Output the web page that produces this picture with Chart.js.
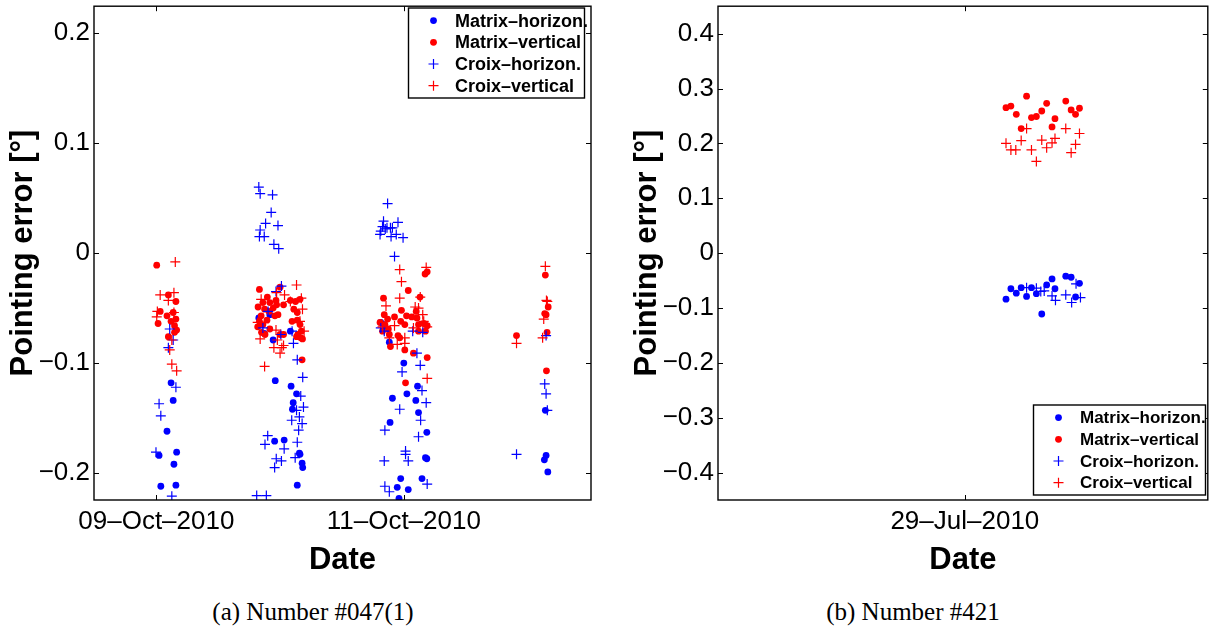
<!DOCTYPE html>
<html>
<head>
<meta charset="utf-8">
<script src="https://cdn.jsdelivr.net/npm/chart.js@4.4.0/dist/chart.umd.min.js"></script>
<style>
  html, body { margin: 0; padding: 0; background: #fff; }
  #wrap { position: relative; width: 1214px; height: 632px; overflow: hidden; background: #fff; }
  .panel { position: absolute; top: 0; width: 607px; height: 590px; }
  #pa { left: 0; }
  #pb { left: 607px; }
  .cap { position: absolute; top: 597px; line-height: 30px; font-family: "Liberation Serif", "DejaVu Serif", serif;
         font-size: 25px; color: #000; white-space: nowrap; transform: translateX(-50%); }
</style>
</head>
<body>
<div id="wrap">
  <div class="panel" id="pa"><canvas id="ca" width="607" height="590"></canvas></div>
  <div class="panel" id="pb"><canvas id="cb" width="607" height="590"></canvas></div>
  <div class="cap" style="left:313px">(a) Number #047(1)</div>
  <div class="cap" style="left:913px">(b) Number #421</div>
</div>
<script>
// ---------- Panel (a): days after 09-Oct-2010 00:00, pointing error in degrees ----------
const seriesNames = ['Matrix–horizon.', 'Matrix–vertical', 'Croix–horizon.', 'Croix–vertical'];

const xTicksA = [0, 2];
const xLabelsA = ['09–Oct–2010', '11–Oct–2010'];
const yTicksA = [-0.2, -0.1, 0, 0.1, 0.2];
const yLabelsA = ['−0.2', '−0.1', '0', '0.1', '0.2'];

const dayA_matrixH = [
  0.119, 0.136, 0.086, 0.022, 0.164, 0.142, 0.036, 0.158,
  0.872, 0.944, 0.828, 0.917, 1.083, 0.961, 1.089, 1.133, 1.106, 1.100, 0.956, 1.033, 1.156, 1.161, 1.178, 1.183, 1.139,
  1.814, 1.842, 1.883, 2.000, 2.111, 2.025, 1.908, 2.097, 2.119, 1.889, 2.186, 2.175, 2.186, 1.975, 2.147, 1.947, 2.036, 1.961,
  3.144, 3.150, 3.136, 3.164
];
const errA_matrixH = [
  -0.118, -0.134, -0.162, -0.184, -0.181, -0.192, -0.212, -0.211,
  -0.073, -0.079, -0.059, -0.056, -0.071, -0.116, -0.121, -0.128, -0.136, -0.142, -0.171, -0.170, -0.182, -0.183, -0.191, -0.195, -0.211,
  -0.063, -0.065, -0.081, -0.100, -0.121, -0.128, -0.132, -0.134, -0.145, -0.154, -0.163, -0.186, -0.187, -0.205, -0.205, -0.213, -0.215, -0.223,
  -0.143, -0.184, -0.188, -0.199
];

const dayA_matrixV = [
  0.003, 0.097, 0.158, 0.031, 0.086, 0.136, 0.158, 0.119, 0.014, 0.147, 0.164, 0.147, 0.097,
  0.833, 0.897, 0.967, 1.000, 0.861, 0.917, 0.972, 1.028, 1.083, 1.125, 1.161, 0.822, 0.847, 0.875, 0.911, 0.944, 0.958, 0.983,
  0.833, 0.861, 0.894, 0.917, 0.819, 0.850, 0.878, 1.111, 1.139, 1.097, 1.139, 1.161, 1.172, 1.144, 1.167, 1.181, 1.133, 1.000, 1.028, 1.178,
  2.172, 2.189, 2.036, 1.836, 2.131, 1.981, 2.022, 1.842, 1.869, 1.925, 1.808, 1.847, 1.975, 2.008, 2.064, 2.106, 2.119, 2.161, 2.189,
  1.828, 1.883, 1.953, 1.967, 2.175, 2.100, 1.875, 2.119, 1.892, 2.008, 2.078, 2.189, 2.014,
  2.911, 3.144, 3.167, 3.139, 3.150, 3.158, 3.153
];
const errA_matrixV = [
  -0.011, -0.038, -0.044, -0.053, -0.057, -0.054, -0.060, -0.062, -0.064, -0.066, -0.070, -0.072, -0.076,
  -0.033, -0.040, -0.043, -0.031, -0.045, -0.045, -0.047, -0.047, -0.043, -0.044, -0.042, -0.049, -0.057, -0.051, -0.053, -0.050, -0.057, -0.056,
  -0.062, -0.065, -0.061, -0.069, -0.067, -0.072, -0.074, -0.051, -0.054, -0.062, -0.061, -0.065, -0.071, -0.074, -0.077, -0.078, -0.076, -0.074, -0.074, -0.097,
  -0.019, -0.017, -0.034, -0.041, -0.040, -0.052, -0.057, -0.056, -0.060, -0.058, -0.063, -0.065, -0.062, -0.065, -0.058, -0.059, -0.065, -0.064, -0.066,
  -0.071, -0.074, -0.075, -0.077, -0.071, -0.053, -0.069, -0.071, -0.085, -0.088, -0.091, -0.095, -0.118,
  -0.075, -0.020, -0.049, -0.055, -0.056, -0.072, -0.107
];

const dayA_croixH = [
  0.108, 0.136, 0.097, 0.158, 0.022, 0.036, -0.003, 0.125,
  0.828, 0.839, 0.939, 0.928, 0.883, 0.983, 0.839, 0.833, 0.872, 0.950, 0.989, 1.011, 0.967,
  1.006, 1.097, 0.861, 0.903,
  1.108, 1.139, 1.183, 1.167, 1.189, 1.133, 1.156, 1.094, 1.178, 1.150, 0.900, 0.878, 1.139, 1.033, 1.122, 0.969, 1.011, 0.956, 0.811, 0.889,
  1.869, 1.836, 1.953, 1.828, 1.864, 1.892, 1.814, 1.808, 1.897, 1.939, 1.994, 1.925, 1.850, 1.908,
  1.814, 1.842, 2.072, 2.153,
  2.106, 2.133, 1.986, 2.147, 2.181, 1.967, 2.136, 1.847, 2.119, 2.014, 2.014, 2.036, 1.842, 1.847, 2.189, 1.883,
  2.911, 3.150, 3.139, 3.150, 3.160
];
const errA_croixH = [
  -0.069, -0.079, -0.086, -0.122, -0.137, -0.148, -0.181, -0.221,
  0.060, 0.054, 0.053, 0.037, 0.027, 0.025, 0.021, 0.015, 0.015, 0.008, 0.004, -0.030, -0.035,
  -0.074, -0.071, -0.068, -0.053,
  -0.082, -0.097, -0.113, -0.130, -0.140, -0.143, -0.149, -0.152, -0.155, -0.161, -0.166, -0.174, -0.172, -0.178, -0.186, -0.187, -0.189, -0.195, -0.2205, -0.2205,
  0.045, 0.029, 0.028, 0.024, 0.023, 0.023, 0.020, 0.017, 0.015, 0.017, 0.014, -0.003, 0.022, 0.023,
  -0.068, -0.071, -0.071, -0.072,
  -0.091, -0.102, -0.108, -0.125, -0.136, -0.142, -0.152, -0.161, -0.167, -0.180, -0.183, -0.189, -0.189, -0.212, -0.210, -0.217,
  -0.183, -0.075, -0.119, -0.128, -0.143
];

const dayA_croixV = [
  0.153, 0.031, 0.142, 0.097, 0.008, 0.003, 0.142, 0.125, 0.108, 0.125, 0.164,
  1.133, 1.036, 1.172, 1.083, 1.181, 1.161, 1.194, 0.819, 0.839, 0.875, 0.967, 0.978, 1.014, 0.950, 1.000, 1.028, 0.847, 0.972,
  2.181, 1.967, 1.981, 1.967, 2.133, 2.092, 2.119, 1.856, 2.153, 2.161, 2.189, 1.828, 1.925, 1.883, 2.008, 2.078, 1.947, 2.008, 2.189,
  2.911, 3.144, 3.153, 3.160, 3.131, 3.122
];
const errA_croixV = [
  -0.008, -0.038, -0.036, -0.043, -0.053, -0.058, -0.054, -0.079, -0.088, -0.101, -0.107,
  -0.029, -0.038, -0.041, -0.044, -0.051, -0.062, -0.071, -0.063, -0.078, -0.103, -0.070, -0.079, -0.086, -0.086, -0.091, -0.084, -0.042, -0.036,
  -0.013, -0.015, -0.026, -0.041, -0.040, -0.049, -0.050, -0.048, -0.056, -0.062, -0.067, -0.067, -0.066, -0.077, -0.077, -0.068, -0.083, -0.082, -0.114,
  -0.082, -0.012, -0.043, -0.044, -0.060, -0.077
];

// ---------- Panel (b): days after 29-Jul-2010 00:00 ----------
const xTicksB = [0];
const xLabelsB = ['29–Jul–2010'];
const yTicksB = [-0.4, -0.3, -0.2, -0.1, 0, 0.1, 0.2, 0.3, 0.4];
const yLabelsB = ['−0.4', '−0.3', '−0.2', '−0.1', '0', '0.1', '0.2', '0.3', '0.4'];

const dayB_matrix = [0.084, 0.094, 0.105, 0.115, 0.126, 0.136, 0.146, 0.157, 0.167, 0.178, 0.184, 0.206, 0.217, 0.226, 0.234];
const errB_matrixH = [-0.084, -0.065, -0.073, -0.063, -0.079, -0.063, -0.074, -0.111, -0.058, -0.047, -0.065, -0.042, -0.044, -0.080, -0.055];
const errB_matrixV = [0.265, 0.268, 0.253, 0.227, 0.286, 0.247, 0.249, 0.259, 0.273, 0.230, 0.245, 0.277, 0.261, 0.253, 0.264];

const dayB_croixH = [0.126, 0.146, 0.155, 0.162, 0.178, 0.185, 0.206, 0.218, 0.227, 0.236];
const errB_croixH = [-0.063, -0.064, -0.070, -0.069, -0.078, -0.086, -0.076, -0.090, -0.056, -0.081];
const dayB_croixV = [0.084, 0.094, 0.104, 0.115, 0.126, 0.136, 0.146, 0.157, 0.167, 0.178, 0.184, 0.206, 0.217, 0.226, 0.234];
const errB_croixV = [0.200, 0.188, 0.188, 0.205, 0.227, 0.188, 0.167, 0.206, 0.192, 0.201, 0.209, 0.227, 0.183, 0.198, 0.218];

// ---------- drawing helpers ----------
const BLUE = '#0000ff';
const RED = '#ff0000';
const SANS = '"Liberation Sans", Arial, Helvetica, sans-serif';

function marker(ctx, kind, color, x, y) {
  ctx.save();
  if (kind === 'dot') {
    ctx.fillStyle = color;
    ctx.beginPath();
    ctx.arc(x, y, 3.4, 0, Math.PI * 2);
    ctx.fill();
  } else {
    ctx.strokeStyle = color;
    ctx.lineWidth = 1.2;
    ctx.beginPath();
    ctx.moveTo(x - 5, y); ctx.lineTo(x + 5, y);
    ctx.moveTo(x, y - 5); ctx.lineTo(x, y + 5);
    ctx.stroke();
  }
  ctx.restore();
}

// Box around the axes with inward tick marks on all four sides
const framePlugin = {
  id: 'axesFrame',
  afterDatasetsDraw(chart) {
    const { ctx, chartArea: a, scales: { x, y } } = chart;
    const L = 5;
    ctx.save();
    ctx.strokeStyle = '#000';
    ctx.lineWidth = 1;
    ctx.beginPath();
    x.ticks.forEach(t => {
      const px = Math.round(x.getPixelForValue(t.value)) + 0.5;
      ctx.moveTo(px, a.bottom); ctx.lineTo(px, a.bottom - L);
      ctx.moveTo(px, a.top); ctx.lineTo(px, a.top + L);
    });
    y.ticks.forEach(t => {
      const py = Math.round(y.getPixelForValue(t.value)) + 0.5;
      ctx.moveTo(a.left, py); ctx.lineTo(a.left + L, py);
      ctx.moveTo(a.right, py); ctx.lineTo(a.right - L, py);
    });
    ctx.stroke();
    ctx.lineWidth = 1.4;
    ctx.strokeRect(a.left, a.top, a.right - a.left, a.bottom - a.top);
    ctx.restore();
  }
};

// Legend box inside the axes (box given in canvas pixels)
const boxLegendPlugin = {
  id: 'boxLegend',
  afterDraw(chart, args, o) {
    const { ctx } = chart;
    ctx.save();
    ctx.fillStyle = '#fff';
    ctx.fillRect(o.x, o.y, o.w, o.h);
    ctx.strokeStyle = '#000';
    ctx.lineWidth = 1.4;
    ctx.strokeRect(o.x, o.y, o.w, o.h);
    ctx.font = 'bold ' + o.size + 'px ' + SANS;
    ctx.textBaseline = 'middle';
    ctx.textAlign = 'left';
    chart.data.datasets.forEach((ds, i) => {
      const cy = o.y + 12.6 + i * 21.7;
      marker(ctx, ds.kind, ds.borderColor, o.x + 25, cy);
      ctx.fillStyle = '#000';
      ctx.fillText(ds.label, o.x + 46.5, cy + 1);
    });
    ctx.restore();
  }
};

function buildSeries(list) {
  return list.map((s, i) => ({
    label: s.label,
    kind: s.kind,
    data: s.days.map((d, k) => ({ x: d, y: s.errs[k] })),
    pointStyle: s.kind === 'dot' ? 'circle' : 'cross',
    pointRadius: s.kind === 'dot' ? 3.4 : 5,
    pointHoverRadius: s.kind === 'dot' ? 3.4 : 5,
    backgroundColor: s.color,
    borderColor: s.color,
    borderWidth: s.kind === 'dot' ? 0 : 1.2,
    showLine: false,
    order: list.length - i
  }));
}

function makePanel(canvas, p) {
  const H = canvas.height, W = canvas.width;
  return new Chart(canvas, {
    type: 'scatter',
    data: { datasets: buildSeries(p.series) },
    options: {
      responsive: false,
      animation: false,
      events: [],
      layout: { padding: { left: 0, top: p.area.top, right: W - p.area.right, bottom: 0 } },
      scales: {
        x: {
          type: 'linear', min: p.xMin, max: p.xMax,
          afterBuildTicks: s => { s.ticks = p.xTicks.map(v => ({ value: v })); },
          afterFit: s => { s.height = H - p.area.bottom; s.paddingLeft = 0; s.paddingRight = 0; },
          grid: { display: false, drawTicks: false },
          border: { display: false },
          ticks: {
            autoSkip: false, maxRotation: 0, padding: 6, color: '#000',
            font: { family: SANS, size: 26 },
            callback: (v, i) => p.xLabels[i]
          },
          title: {
            display: true, text: 'Date', color: '#000',
            font: { family: SANS, size: 31, weight: 'bold' },
            padding: { top: 0, bottom: 11 }
          }
        },
        y: {
          type: 'linear', min: p.yMin, max: p.yMax,
          afterBuildTicks: s => { s.ticks = p.yTicks.map(v => ({ value: v })); },
          afterFit: s => { s.width = p.area.left; s.paddingTop = 0; s.paddingBottom = 0; },
          grid: { display: false, drawTicks: false },
          border: { display: false },
          ticks: {
            autoSkip: false, padding: 4, color: '#000',
            font: { family: SANS, size: 26 },
            callback: (v, i) => p.yLabels[i]
          },
          title: {
            display: true, text: 'Pointing error [°]', color: '#000',
            font: { family: SANS, size: 31, weight: 'bold' },
            padding: { top: p.yTitlePad, bottom: 0 }
          }
        }
      },
      plugins: {
        legend: { display: false },
        tooltip: { enabled: false },
        boxLegend: p.legend
      }
    },
    plugins: [framePlugin, boxLegendPlugin]
  });
}

makePanel(document.getElementById('ca'), {
  area: { left: 94, right: 591, top: 4, bottom: 500 },
  xMin: -0.504, xMax: 3.513, yMin: -0.2245, yMax: 0.2245,
  xTicks: xTicksA, xLabels: xLabelsA, yTicks: yTicksA, yLabels: yLabelsA,
  yTitlePad: 4.5,
  legend: { x: 408.5, y: 8, w: 176, h: 90, size: 18 },
  series: [
    { label: seriesNames[0], kind: 'dot', color: BLUE, days: dayA_matrixH, errs: errA_matrixH },
    { label: seriesNames[1], kind: 'dot', color: RED, days: dayA_matrixV, errs: errA_matrixV },
    { label: seriesNames[2], kind: 'cross', color: BLUE, days: dayA_croixH, errs: errA_croixH },
    { label: seriesNames[3], kind: 'cross', color: RED, days: dayA_croixV, errs: errA_croixV }
  ]
});

makePanel(document.getElementById('cb'), {
  area: { left: 111, right: 605, top: 4, bottom: 500 },
  xMin: -0.504, xMax: 0.496, yMin: -0.45, yMax: 0.45,
  xTicks: xTicksB, xLabels: xLabelsB, yTicks: yTicksB, yLabels: yLabelsB,
  yTitlePad: 22,
  legend: { x: 426.5, y: 405, w: 172, h: 90, size: 17 },
  series: [
    { label: seriesNames[0], kind: 'dot', color: BLUE, days: dayB_matrix, errs: errB_matrixH },
    { label: seriesNames[1], kind: 'dot', color: RED, days: dayB_matrix, errs: errB_matrixV },
    { label: seriesNames[2], kind: 'cross', color: BLUE, days: dayB_croixH, errs: errB_croixH },
    { label: seriesNames[3], kind: 'cross', color: RED, days: dayB_croixV, errs: errB_croixV }
  ]
});
</script>
</body>
</html>
